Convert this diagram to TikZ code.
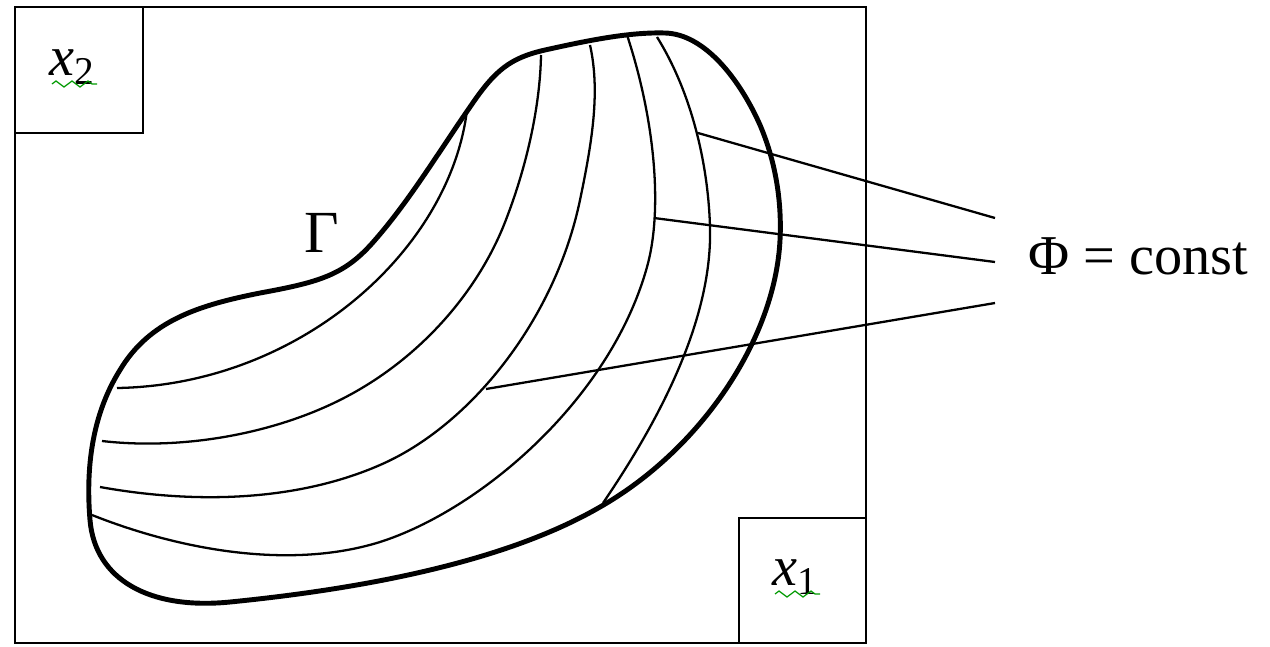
\documentclass[tikz,border=0pt]{standalone}
\usepackage{fontspec}
\setmainfont{Liberation Serif}
\usetikzlibrary{decorations.pathmorphing}

\begin{document}
\begin{tikzpicture}[x=0.1mm, y=-0.1mm,
    frame/.style={line width=0.6pt},
    gammaline/.style={line width=1.4pt, line join=round},
    levelline/.style={line width=0.65pt},
    lead/.style={line width=0.65pt},
    wavy/.style={green!60!black, line width=0.35pt, decorate,
        decoration={zigzag, segment length=1.6mm, amplitude=0.3mm}}]

\useasboundingbox (0,0) rectangle (1270,646);

    % Frame and axis boxes
\draw[frame] (15,7) rectangle (866,643);
\draw[frame] (15,7) rectangle (143,133);
\draw[frame] (739,518) rectangle (866,643);

% Axis labels
\node[anchor=base west, inner sep=0, font=\fontsize{16}{18}\selectfont] (xtwo) at (49,75) {\textit{x}\textsubscript{2}};
\node[anchor=base west, inner sep=0, font=\fontsize{16}{18}\selectfont] (xone) at (772,585) {\textit{x}\textsubscript{1}};
\draw[wavy] (52,84) -- (97,84);
\draw[wavy] (775,594) -- (820,594);

% Boundary Gamma
\draw[gammaline] (470,107) .. controls (495,70) and (510,58) .. (545,50)
    .. controls (590,40) and (630,32) .. (665,33)
    .. controls (705,34) and (740,80) .. (760,125)
    .. controls (775,160) and (782,200) .. (780,240)
    .. controls (775,340) and (700,450) .. (600,507)
    .. controls (500,565) and (350,590) .. (230,602)
    .. controls (150,610) and (95,580) .. (90,520)
    .. controls (85,460) and (95,410) .. (120,370)
    .. controls (150,320) and (200,305) .. (260,293)
    .. controls (320,282) and (345,275) .. (375,240)
    .. controls (410,200) and (440,150) .. (470,107) -- cycle;
\node[anchor=base, inner sep=0, font=\fontsize{17}{20}\selectfont] (gamma) at (322,252) {Γ};

% Level lines Phi = const
\draw[levelline] (117,388) .. controls (300,385) and (450,250) .. (467,110);
\draw[levelline] (102,441) .. controls (180,450) and (270,435) .. (340,400)
    .. controls (420,360) and (480,290) .. (507,217)
    .. controls (525,170) and (540,110) .. (541,55);
\draw[levelline] (100,487) .. controls (200,505) and (300,500) .. (380,465)
    .. controls (470,426) and (555,320) .. (580,200)
    .. controls (593,138) and (600,90) .. (590,45);
\draw[levelline] (92,515) .. controls (180,550) and (290,570) .. (380,542)
    .. controls (480,510) and (610,400) .. (647,267)
    .. controls (663,210) and (655,120) .. (627,35);
\draw[levelline] (603,503) .. controls (680,390) and (712,300) .. (710,227)
    .. controls (708,160) and (690,90) .. (657,37);

% Label and leader lines
\node[anchor=base west, inner sep=0, font=\fontsize{16}{18}\selectfont] (phi) at (1028,274) {Φ = const};
\coordinate (pa) at (698,133);
\coordinate (pb) at (654,218);
\coordinate (pc) at (486,389);
\coordinate (ea) at (995,218);
\coordinate (eb) at (995,262);
\coordinate (ec) at (995,303);
\draw[lead] (pa) -- (ea);
\draw[lead] (pb) -- (eb);
\draw[lead] (pc) -- (ec);

\end{tikzpicture}
\end{document}
